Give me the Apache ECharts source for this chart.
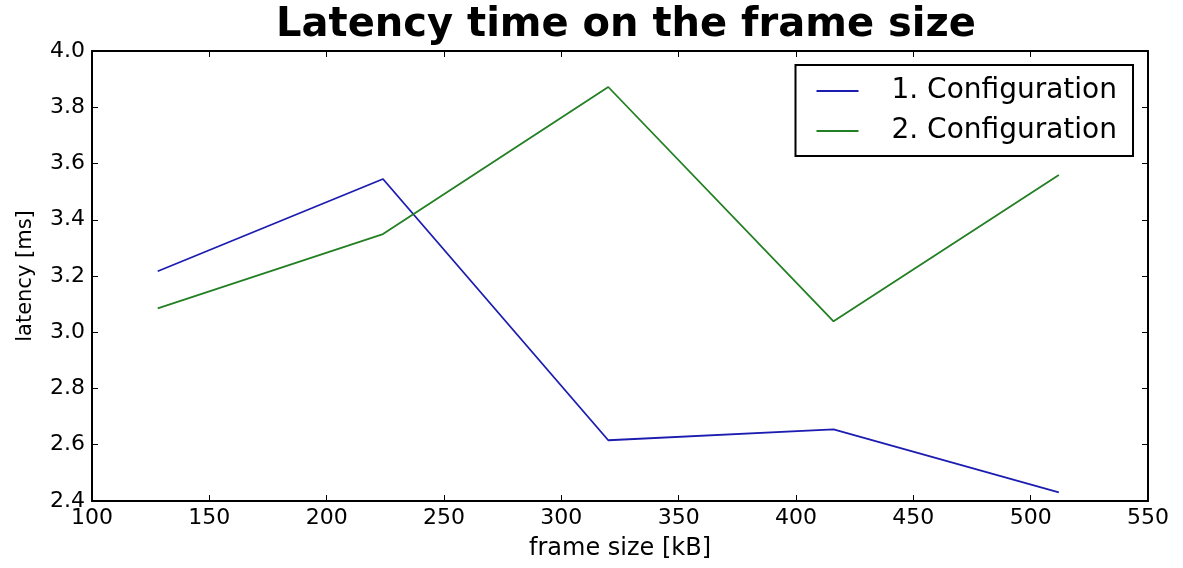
<!DOCTYPE html>
<html>
<head>
<meta charset="utf-8">
<script src="https://cdn.jsdelivr.net/npm/echarts@6/dist/echarts.min.js"></script>
<style>
  html, body { margin: 0; padding: 0; background: #fff; }
  #chart { width: 1183px; height: 568px; }
</style>
</head>
<body>
<div id="chart"></div>
<script>
// frame sizes in kB
const frameSizes = [128, 224, 320, 416, 512]
// latency in ms
const config1 = [3.217, 3.545, 2.616, 2.655, 2.431]
const config2 = [3.085, 3.349, 3.872, 3.039, 3.559]
const seriesNames = ['1. Configuration', '2. Configuration']

const font = 'DejaVu Sans'
const chart = echarts.init(document.getElementById('chart'))

const pairs = arr => frameSizes.map((x, i) => [x, arr[i]])

// matplotlib style: ticks inside on all four sides
const tickIn = { show: true, inside: true, length: 6, lineStyle: { color: '#000', width: 1 } }

chart.setOption({
  backgroundColor: '#fff',
  animation: false,
  title: {
    text: 'Latency time on the frame size',
    left: 621,
    top: 1,
    textAlign: 'center',
    textStyle: { fontFamily: font, fontWeight: 'bold', fontSize: 40, color: '#000' }
  },
  legend: {
    right: 50,
    top: 65,
    orient: 'vertical',
    backgroundColor: '#fff',
    borderColor: '#000',
    borderWidth: 2,
    borderRadius: 0,
    padding: [12, 16, 11, 20],
    itemGap: 12,
    itemWidth: 42,
    itemHeight: 2,
    data: seriesNames,
    textStyle: { fontFamily: font, fontSize: 28, color: '#000', padding: [0, 0, 0, 28] }
  },
  grid: { left: 92, right: 35, top: 51, bottom: 67 },
  xAxis: [{
    type: 'value',
    min: 100,
    max: 550,
    interval: 50,
    name: 'frame size [kB]',
    nameLocation: 'middle',
    nameGap: 36,
    nameTextStyle: { fontFamily: font, fontSize: 24, color: '#000' },
    axisLine: { show: true, lineStyle: { color: '#000', width: 2 } },
    axisTick: tickIn,
    splitLine: { show: false },
    axisLabel: { fontFamily: font, fontSize: 22, color: '#000', margin: 6 }
  }, {
    type: 'value',
    position: 'top',
    min: 100,
    max: 550,
    interval: 50,
    axisLine: { show: true, lineStyle: { color: '#000', width: 2 } },
    axisTick: tickIn,
    splitLine: { show: false },
    axisLabel: { show: false }
  }],
  yAxis: [{
    type: 'value',
    min: 2.4,
    max: 4.0,
    interval: 0.2,
    name: 'latency [ms]',
    nameLocation: 'middle',
    nameGap: 56,
    nameTextStyle: { fontFamily: font, fontSize: 21, color: '#000' },
    axisLine: { show: true, lineStyle: { color: '#000', width: 2 } },
    axisTick: tickIn,
    splitLine: { show: false },
    axisLabel: {
      fontFamily: font, fontSize: 22, color: '#000', margin: 7,
      formatter: v => v.toFixed(1)
    }
  }, {
    type: 'value',
    position: 'right',
    min: 2.4,
    max: 4.0,
    interval: 0.2,
    axisLine: { show: true, lineStyle: { color: '#000', width: 2 } },
    axisTick: tickIn,
    splitLine: { show: false },
    axisLabel: { show: false }
  }],
  series: [{
    name: seriesNames[0],
    type: 'line',
    symbol: 'none',
    data: pairs(config1),
    lineStyle: { color: '#1c1cb0', width: 1.8 },
    itemStyle: { color: '#1c1cb0' }
  }, {
    name: seriesNames[1],
    type: 'line',
    symbol: 'none',
    data: pairs(config2),
    lineStyle: { color: '#237f23', width: 1.8 },
    itemStyle: { color: '#237f23' }
  }]
})
</script>
</body>
</html>
